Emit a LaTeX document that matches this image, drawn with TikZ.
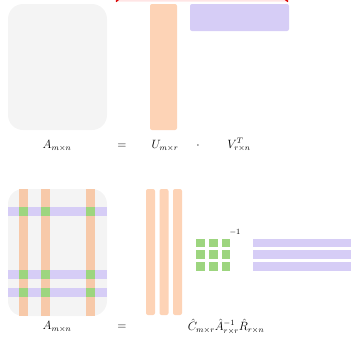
\documentclass[tikz,border=0pt]{standalone}
\usepackage{amsmath}
\usepackage{tikz}
\usetikzlibrary{positioning, calc}
\definecolor{matgray}{HTML}{F4F4F4}
\definecolor{colorange}{HTML}{FDD3B6}
\definecolor{roworange}{HTML}{F7C9A9}
\definecolor{rowpurple}{HTML}{D6CDF6}
\definecolor{cellgreen}{HTML}{9DD57F}
\tikzset{
	matbox/.style={fill=matgray, draw=none, rounded corners=15pt},
	colbar/.style={fill=colorange, draw=none, rounded corners=2pt},
	rowbar/.style={fill=rowpurple, draw=none, rounded corners=2pt},
	cellbox/.style={fill=cellgreen, draw=none}
}
\tikzset{
	eqtext/.style={font=\large, inner sep=0pt}
}
\begin{document}
\begin{tikzpicture}[x=1pt, y=-1pt]
      \useasboundingbox (0,0) rectangle (351,338);
      % red arc, cut off at the top
      \draw[red!85!black, line width=1.5pt, fill=red!10] (116,1.5) .. controls (150,-30) and (250,-30) .. (288,1.5);
      % top: A = U . V^T
      \fill[matbox] (8,4) rectangle (107,130);
      \fill[colbar] (150,4) rectangle (177,130);
      \fill[rowbar] (190,4) rectangle (289,31);
      \node[eqtext] (a1) at (57,146) {$A_{m\times n}$};
      \node[eqtext] (eq1) at (122,146) {$=$};
      \node[eqtext] (u1) at (165,146) {$U_{m\times r}$};
      \node[eqtext] (dot1) at (198,146) {$\cdot$};
      \node[eqtext] (v1) at (239,145) {$V^{T}_{r\times n}$};
      % bottom: A with chosen columns and rows
      \fill[matbox] (8,189) rectangle (107,316);
      \foreach \x in {19,41,86} {
        \fill[roworange] (\x,189) rectangle (\x+9,316);
      }
      \foreach \y in {207,270,288} {
        \fill[rowpurple] (8,\y) rectangle (107,\y+9);
        % crossings
        \foreach \x in {19,41,86} {
          \fill[cellbox] (\x,\y) rectangle (\x+9,\y+9);
        }
      }
      % C columns
      \foreach \x in {146,159.5,173} {
        \fill[colbar] (\x,189) rectangle (\x+9,315);
      }
      % inverse of the crossing block
      \foreach \y in {238.5,250.3,261.8} {
        \foreach \x in {196,209.3,221.5} {
          \fill[cellbox] (\x,\y) rectangle (\x+8.5,\y+8.8);
        }
        % R rows
        \fill[rowpurple] (253,\y) rectangle (360,\y+8.8);
      }
      \node[font=\footnotesize, inner sep=0pt] (inv) at (235,232.5) {$-1$};
      \node[eqtext] (a2) at (57,327) {$A_{m\times n}$};
      \node[eqtext] (eq2) at (122,327) {$=$};
      \node[eqtext] (cur) at (226,327) {$\hat{C}_{m\times r}\hat{A}^{-1}_{r\times r}\hat{R}_{r\times n}$};
\end{tikzpicture}
\end{document}
